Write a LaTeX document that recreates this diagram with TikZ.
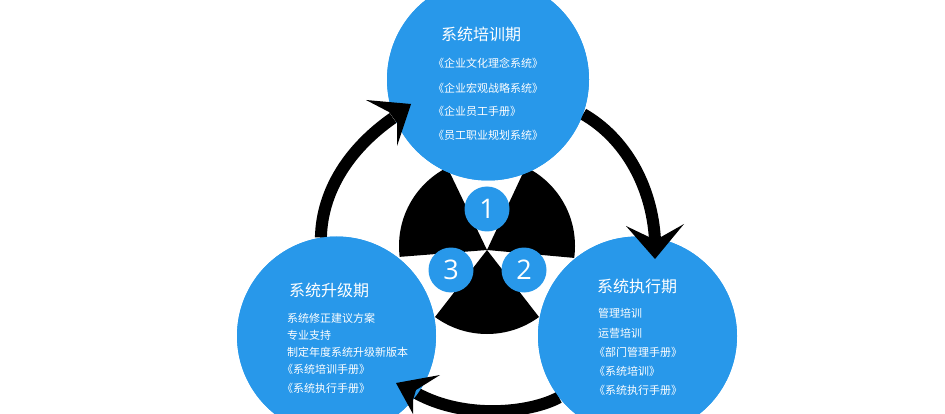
\documentclass[tikz,border=0pt]{standalone}
\usepackage{fontspec}
\setmainfont{Noto Sans CJK SC}
\newfontfamily\numfont{Open Sans}
\usetikzlibrary{arrows.meta}
\definecolor{bluefill}{HTML}{2898EA}
\tikzset{
  bigdisc/.style={circle,fill=bluefill,inner sep=0pt,minimum size=200pt},
  numdisc/.style={circle,fill=bluefill,inner sep=0pt,minimum size=45pt,text=white,font=\numfont\fontsize{27}{27}\selectfont},
  titletext/.style={anchor=center,inner sep=0pt,text=white,font=\fontsize{16}{16}\selectfont},
  itemtext/.style={anchor=west,inner sep=0pt,text=white,font=\fontsize{11}{11}\selectfont},
  shaft/.style={draw=black,line width=12pt},
  arrowhead/.style={fill=black},
  sector/.style={fill=black},
}
\begin{document}
\begin{tikzpicture}[x=1pt,y=-1pt]
\useasboundingbox (0,0) rectangle (945,414);
\clip (0,0) rectangle (945,414);
% trefoil
\coordinate (apex) at (487,250);
\coordinate (hub) at (487,246);
\begin{scope}\clip (apex) -- (309,264) -- (309,96) -- (413,96) -- cycle;
  \fill[sector] (hub) circle[radius=88pt];\end{scope}
\begin{scope}\clip (apex) -- (663,266) -- (663,96) -- (559,96) -- cycle;
  \fill[sector] (hub) circle[radius=88pt];\end{scope}
\begin{scope}\clip (apex) -- (383,384) -- (591,384) -- cycle;
  \fill[sector] (hub) circle[radius=88pt];\end{scope}
% named anchors of the discs (placed first so shafts can use them)
\path (488,79.5) node[bigdisc,minimum size=202pt] (topdisc) {};
\path (336.5,336) node[bigdisc,minimum size=199pt] (leftdisc) {};
\path (637.5,336) node[bigdisc,minimum size=199pt] (rightdisc) {};
% shafts run under the discs
\draw[shaft] (topdisc.-20) .. controls (625,138) and (652,186) .. (655,240);
\draw[shaft] (leftdisc.99) .. controls (322,190) and (350,148) .. (393,118);
\draw[shaft] (rightdisc.218) .. controls (530,413) and (465,420) .. (416,393);
% discs again on top of shaft ends
\node[bigdisc,minimum size=202pt] at (topdisc.center) {};
\node[bigdisc,minimum size=199pt] at (leftdisc.center) {};
\node[bigdisc,minimum size=199pt] at (rightdisc.center) {};
% arrow heads lie over the discs
\fill[arrowhead] (655,259) -- (626,226) -- (649,237) -- (661,237) -- (684,224) -- cycle;
\fill[arrowhead] (411,104) -- (397,146) -- (397,123) -- (389,112) -- (366,100) -- cycle;
\fill[arrowhead] (396,383) -- (440,375) -- (416,390) -- (413,400) -- (413,414) -- cycle;
% numbers
\node[numdisc] (n1) at (487,209) {1};
\node[numdisc] (n2) at (524,270) {2};
\node[numdisc] (n3) at (451,270) {3};
% top
\node[titletext] (t0) at (481,34) {系统培训期};
\node[itemtext] (t1) at (433,63) {《企业文化理念系统》};
\node[itemtext] (t2) at (433,88) {《企业宏观战略系统》};
\node[itemtext] (t3) at (433,111) {《企业员工手册》};
\node[itemtext] (t4) at (433,135) {《员工职业规划系统》};
% left
\node[titletext] (l0) at (329,290) {系统升级期};
\node[itemtext] (l1) at (287,318) {系统修正建议方案};
\node[itemtext] (l2) at (287,335) {专业支持};
\node[itemtext] (l3) at (287,352) {制定年度系统升级新版本};
\node[itemtext] (l4) at (282,369) {《系统培训手册》};
\node[itemtext] (l5) at (282,388) {《系统执行手册》};
% right
\node[titletext] (r0) at (637,286) {系统执行期};
\node[itemtext] (r1) at (598,313) {管理培训};
\node[itemtext] (r2) at (598,333) {运营培训};
\node[itemtext] (r3) at (594,352) {《部门管理手册》};
\node[itemtext] (r4) at (594,371) {《系统培训》};
\node[itemtext] (r5) at (594,390) {《系统执行手册》};
\end{tikzpicture}
\end{document}
